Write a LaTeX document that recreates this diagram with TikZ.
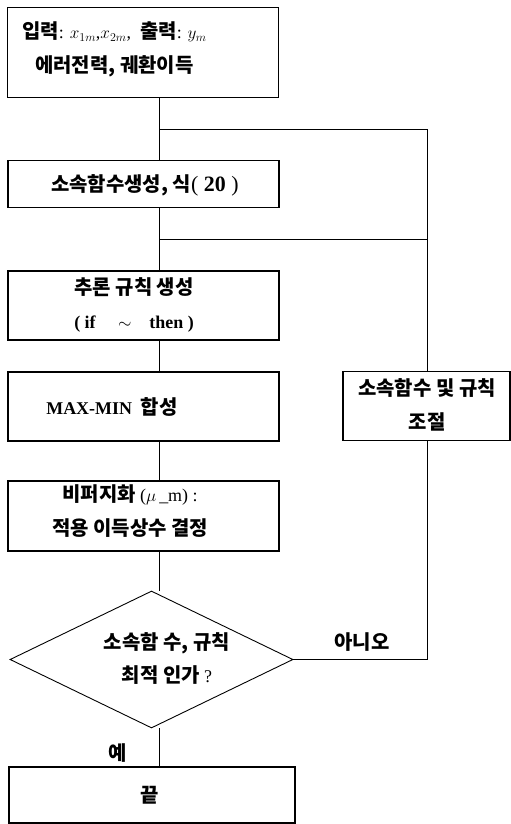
\documentclass[tikz,border=0pt]{standalone}
\usepackage{fontspec}
\setmainfont{Liberation Serif}
\newfontfamily\krfont{Noto Sans CJK KR}
\newcommand{\kr}{\krfont\bfseries\fontsize{20}{34}\selectfont}
\usetikzlibrary{shapes.geometric}
\begin{document}
\begin{tikzpicture}[x=1bp,y=-1bp,
  box/.style={draw, line width=1.1bp, inner sep=0pt},
  lbl/.style={inner sep=0pt, align=center, font=\fontsize{18}{34}\selectfont},
  conn/.style={line width=0.8bp},
  dia/.style={draw, line width=0.9bp, shape=diamond, inner sep=0pt, shape aspect=2.07}]
\useasboundingbox (0,0) rectangle (511,824);
% spine coordinates
\coordinate (sp) at (159,0);
\coordinate (rx) at (427,0);
\coordinate (j1) at (159,129);
\coordinate (j2) at (159,239);
% boxes
\node[box, minimum width=271bp, minimum height=90bp] (b1) at (143,52.5) {};
\node[box, minimum width=271bp, minimum height=47bp] (b2) at (143.5,184) {};
\node[box, minimum width=271bp, minimum height=69bp] (b3) at (143.5,305.5) {};
\node[box, minimum width=271bp, minimum height=69bp] (b4) at (143.5,406.5) {};
\node[box, minimum width=271bp, minimum height=70bp] (b5) at (143.5,516) {};
\node[dia, minimum width=283bp, minimum height=137bp] (d) at (151.5,659.5) {};
\node[box, minimum width=286bp, minimum height=56bp] (e) at (152,795) {};
\node[box, minimum width=167bp, minimum height=69bp] (r) at (426.5,406) {};
% texts
\node[lbl, anchor=west] (t1a) at (22,32) {{\kr 입력}: $x_{1m}$,$x_{2m}$,\ \ {\kr 출력}: $y_m$};
\node[lbl, anchor=west] (t1b) at (35,66) {\kr 에러전력, 궤환이득};
\node[lbl] (t2) at (145,185) {{\kr 소속함수생성, 식}{\fontsize{22}{26}\selectfont(\ \textbf{20}\ )}};
\node[lbl] (t3) at (134,305) {{\kr 추론 규칙 생성}\\ \textbf{(\ if \quad$\sim$\quad then\ )}};
\node[lbl] (t4) at (112,407) {\textbf{MAX-MIN}\ \ {\kr 합성}};
\node[lbl] (t5) at (130,511) {{\kr 비퍼지화} ($\mu$\,\_m) :\\ {\kr 적용 이득상수 결정}};
\node[lbl] (td) at (167,658.5) {{\kr 소속함 수, 규칙}\\ {\kr 최적 인가} ?};
\node[lbl] (te) at (150,795) {\kr 끝};
\node[lbl] (tr) at (427,405) {{\kr 소속함수 및 규칙}\\ {\kr 조절}};
\node[lbl] (no) at (362,642) {\kr 아니오};
\node[lbl] (yes) at (118,753) {\kr 예};
% connectors
\draw[conn] (b1.south -| sp) -- (b2.north -| sp);
\draw[conn] (b2.south -| sp) -- (b3.north -| sp);
\draw[conn] (b3.south -| sp) -- (b4.north -| sp);
\draw[conn] (b4.south -| sp) -- (b5.north -| sp);
\draw[conn] (b5.south -| sp) -- (d.north -| sp);
\draw[conn] (d.south -| sp) -- (e.north -| sp);
\draw[conn] (d.east) -| (r.south -| rx);
\draw[conn] (r.north -| rx) |- (j1);
\draw[conn] (j2) -- (j2 -| rx);
\end{tikzpicture}
\end{document}
